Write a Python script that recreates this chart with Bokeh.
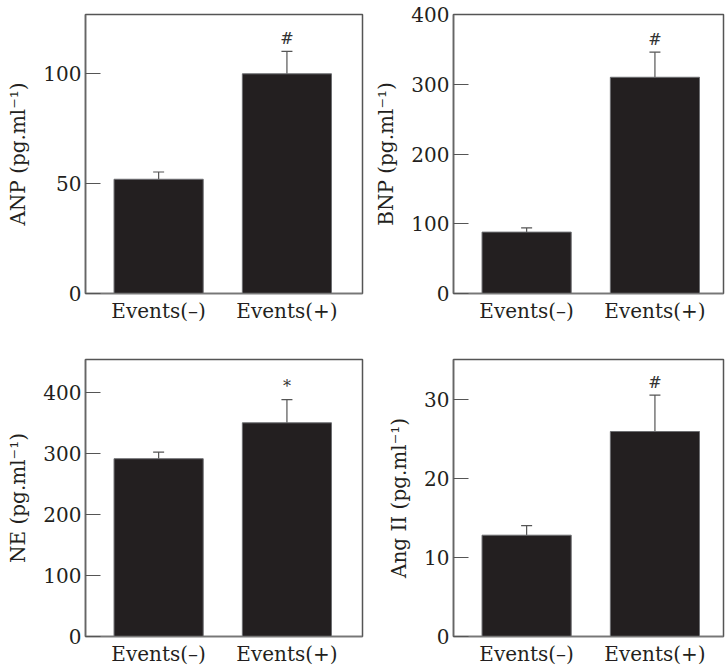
from bokeh.plotting import figure
from bokeh.models import Range1d, FixedTicker, Whisker, TeeHead, ColumnDataSource
from bokeh.layouts import column, row
from bokeh.core.properties import value
from bokeh.embed import file_html
from bokeh.resources import INLINE

# ---------------- data ----------------
categories = ["Events(\u2013)", "Events(+)"]
x_pos = [1, 2]

anp_mean = [52.0, 100.0]
anp_sem = [3.3, 10.2]
anp_marks = ["", "#"]
anp_ticks = [0, 50, 100]

bnp_mean = [88.0, 310.0]
bnp_sem = [6.0, 36.0]
bnp_marks = ["", "#"]
bnp_ticks = [0, 100, 200, 300, 400]

ne_mean = [292.0, 351.0]
ne_sem = [11.0, 38.0]
ne_marks = ["", "*"]
ne_ticks = [0, 100, 200, 300, 400]

ang_mean = [12.8, 25.9]
ang_sem = [1.2, 4.6]
ang_marks = ["", "#"]
ang_ticks = [0, 10, 20, 30]

FONT = "DejaVu Serif"
INK = "#231f20"
PX_PER_UNIT = 128.3
X_START = 0.43


def make_panel(mean, sem, marks, ticks, ylabel, ymax, width, height,
               bl, br, bt, bb):
    frame_w = width - bl - br
    p = figure(width=width, height=height,
               x_range=Range1d(X_START, X_START + frame_w / PX_PER_UNIT),
               y_range=Range1d(0, ymax),
               output_backend="svg", toolbar_location=None,
               min_border_left=bl, min_border_right=br,
               min_border_top=bt, min_border_bottom=bb)
    upper = [m + s for m, s in zip(mean, sem)]
    src = ColumnDataSource(dict(x=x_pos, mean=mean, upper=upper, mark=marks))

    p.vbar(x="x", top="mean", bottom=0, width=0.695, source=src,
           fill_color=INK, line_color="#6d6e71", line_width=1)

    wh = Whisker(source=src, base="x", upper="upper", lower="mean",
                 dimension="height", line_color="#555555", line_width=1.2,
                 upper_head=TeeHead(size=11, line_color="#555555", line_width=1.2),
                 lower_head=None)
    p.add_layout(wh)

    p.text(x="x", y="upper", text="mark", source=src, text_align="center",
           text_baseline="alphabetic", y_offset=-13,
           text_font=value(FONT), text_font_size="16px", text_color="#333333")

    p.grid.visible = False
    p.outline_line_color = "#555555"
    p.outline_line_width = 1.5
    p.background_fill_color = "white"
    p.border_fill_color = "white"

    xa = p.xaxis[0]
    xa.ticker = FixedTicker(ticks=x_pos)
    xa.major_label_overrides = {x_pos[0]: categories[0], x_pos[1]: categories[1]}
    xa.major_tick_line_color = None
    xa.major_tick_in = 0
    xa.major_tick_out = 0
    xa.minor_tick_line_color = None
    xa.minor_tick_in = 0
    xa.minor_tick_out = 0
    xa.axis_line_color = "#777777"
    xa.axis_line_width = 1.5
    xa.major_label_standoff = 5
    xa.major_label_text_font = FONT
    xa.major_label_text_font_size = "20px"
    xa.major_label_text_color = INK

    ya = p.yaxis[0]
    ya.ticker = FixedTicker(ticks=ticks)
    ya.major_tick_in = 15
    ya.major_tick_out = 0
    ya.minor_tick_in = 0
    ya.minor_tick_out = 0
    ya.major_tick_line_color = "#555555"
    ya.major_tick_line_width = 1.2
    ya.minor_tick_line_color = None
    ya.axis_line_color = "#666666"
    ya.axis_line_width = 1.5
    ya.major_label_standoff = 4
    ya.major_label_text_font = FONT
    ya.major_label_text_font_size = "20px"
    ya.major_label_text_color = INK
    ya.axis_label = ylabel
    ya.axis_label_text_font = FONT
    ya.axis_label_text_font_size = "20px"
    ya.axis_label_text_font_style = "normal"
    ya.axis_label_text_color = INK
    ya.axis_label_standoff = 10
    return p


p1 = make_panel(anp_mean, anp_sem, anp_marks, anp_ticks,
                "ANP (pg.ml\u207b\u00b9)", 127, 366, 334, 85, 4, 14, 41)
p2 = make_panel(bnp_mean, bnp_sem, bnp_marks, bnp_ticks,
                "BNP (pg.ml\u207b\u00b9)", 400, 359, 334, 87, 2, 14, 41)
p3 = make_panel(ne_mean, ne_sem, ne_marks, ne_ticks,
                "NE (pg.ml\u207b\u00b9)", 455, 366, 334, 85, 4, 25, 32)
p4 = make_panel(ang_mean, ang_sem, ang_marks, ang_ticks,
                "Ang II (pg.ml\u207b\u00b9)", 35, 359, 334, 87, 2, 25, 32)

layout = column(row(p1, p2), row(p3, p4))

open("out.html", "w").write(file_html(layout, INLINE))
